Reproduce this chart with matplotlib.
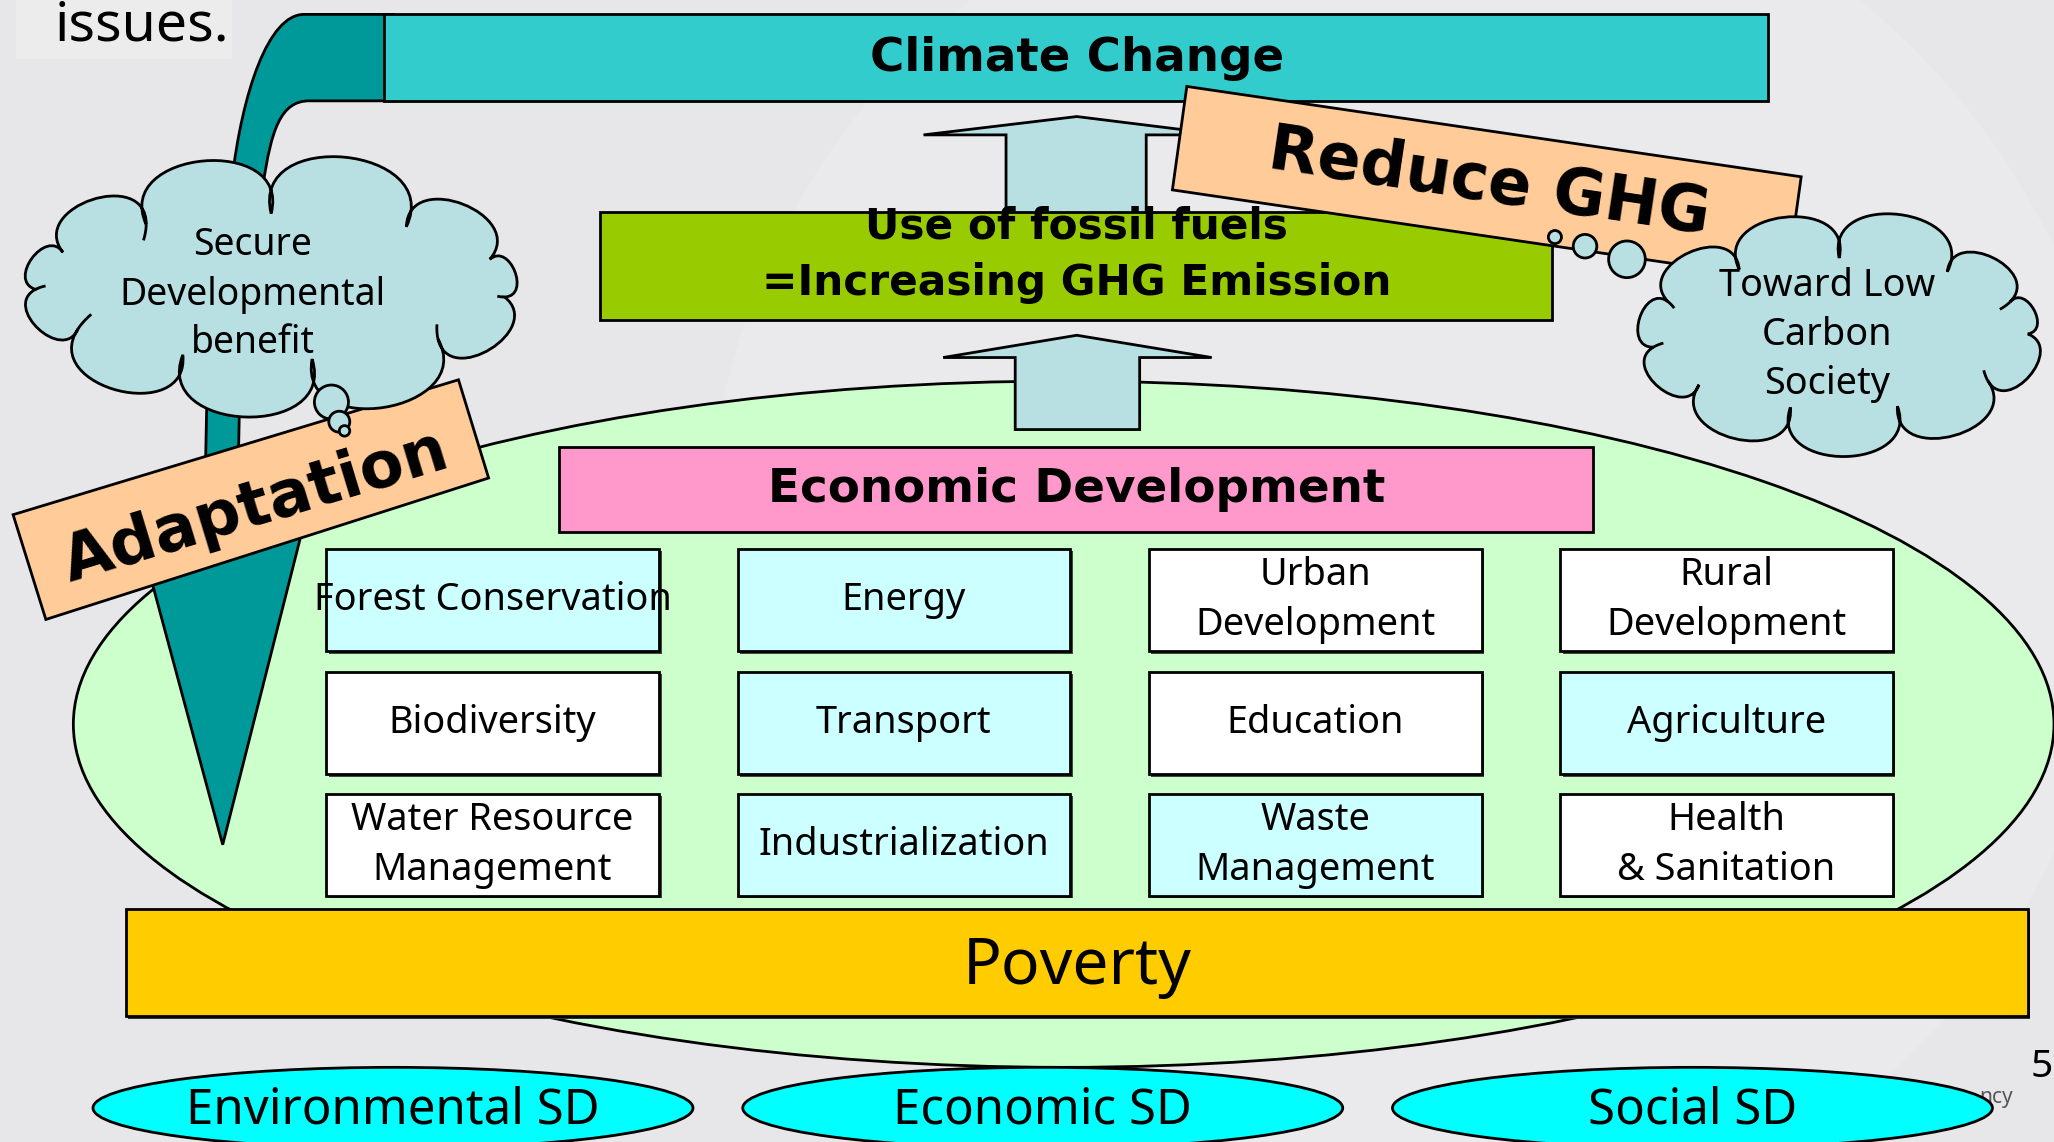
import os
import numpy as np
import matplotlib.pyplot as plt
from matplotlib.patches import Rectangle, Ellipse, Polygon, PathPatch, Circle
from matplotlib.path import Path
from matplotlib import font_manager


# ---- texts of the diagram
top_label = 'Climate Change'
fossil_lines = ['Use of fossil fuels', '=Increasing GHG Emission']
econ_label = 'Economic Development'
sector_labels = [
    ['Forest Conservation', 'Energy', 'Urban\nDevelopment', 'Rural\nDevelopment'],
    ['Biodiversity', 'Transport', 'Education', 'Agriculture'],
    ['Water Resource\nManagement', 'Industrialization', 'Waste\nManagement', 'Health\n& Sanitation'],
]
sector_cyan = [
    [1, 1, 0, 0],
    [0, 1, 0, 1],
    [0, 1, 1, 0],
]
base_label = 'Poverty'
sd_labels = ['Environmental SD', 'Economic SD', 'Social SD']
left_cloud_lines = ['Secure', 'Developmental', 'benefit']
right_cloud_lines = ['Toward Low', 'Carbon', 'Society']
reduce_label = 'Reduce GHG'
adapt_label = 'Adaptation'


# regular text: a face a bit narrower than DejaVu (the slide used squeezed Tahoma)
FAMILY = 'DejaVu Sans'
for cand in ['Noto Sans', 'Open Sans']:
    try:
        font_manager.findfont(font_manager.FontProperties(family=cand), fallback_to_default=False)
        FAMILY = cand
        break
    except Exception:
        pass

SX = 2054 / 1568.0


def fprop(size, bold=False):
    if bold:
        return font_manager.FontProperties(family='DejaVu Sans', size=size, weight='bold')
    return font_manager.FontProperties(family=[FAMILY, 'DejaVu Sans'], size=size)


def fit(s, width, bold=False):
    # font size (pt) whose rendered width is `width` reference pixels
    t = ax.text(0, 0, s, fontproperties=fprop(20, bold))
    w = t.get_window_extent(renderer=fig.canvas.get_renderer()).width
    t.remove()
    return 20 * width * SX / w


def txt(x, y, s, size, bold=False, rot=0, ha='center', color='black', z=20):
    ax.text(x, y, s, fontproperties=fprop(size, bold), ha=ha, va='center',
            rotation=rot, rotation_mode='anchor', color=color, zorder=z)


def cloud(cx, cy, rx, ry, angles, curls, z=9):
    pts = [np.array([cx + rx*np.cos(np.radians(a)), cy + ry*np.sin(np.radians(a))]) for a in angles]
    verts = [tuple(pts[0])]
    codes = [Path.MOVETO]
    segs = []
    n = len(pts)
    for i in range(n):
        p0, p1 = pts[i], pts[(i+1) % n]
        d = p1 - p0
        L = np.hypot(*d)
        nrm = np.array([d[1], -d[0]]) / L
        if np.dot(nrm, (p0+p1)/2 - np.array([cx, cy])) < 0:
            nrm = -nrm
        c1 = p0 + nrm*0.62*L - d*0.22
        c2 = p1 + nrm*0.62*L + d*0.22
        verts += [tuple(c1), tuple(c2), tuple(p1)]
        codes += [Path.CURVE4]*3
        segs.append((p0, c1, c2, p1))
    verts.append(tuple(pts[0]))
    codes.append(Path.CLOSEPOLY)
    ax.add_patch(PathPatch(Path(verts, codes), fc='#b8e0e3', ec='black', lw=2, zorder=z))
    # short inward curls at some joints
    for i in curls:
        p0, c1, c2, p1 = segs[i]
        t = np.linspace(1.0, 1.08, 10)
        b = ((1-t)**3)[:, None]*p0 + (3*(1-t)**2*t)[:, None]*c1 + (3*(1-t)*t**2)[:, None]*c2 + (t**3)[:, None]*p1
        ax.plot(b[:, 0], b[:, 1], color='black', lw=2, zorder=z+0.1, solid_capstyle='butt')


fig = plt.figure(figsize=(20.54, 11.42), dpi=100)
ax = fig.add_axes([0, 0, 1, 1])
ax.set_xlim(0, 1568)
ax.set_ylim(872, 0)
ax.axis('off')
fig.patch.set_facecolor('#e7e7e9')

# font sizes fitted to the widths seen on the slide
fs_issues = fit('issues.', 133)
fs_top = fit(top_label, 317, True)
fs_fossil = fit(fossil_lines[1], 481, True)
fs_econ = fit(econ_label, 472, True)
fs_box = fit('Forest Conservation', 273)
fs_pov = fit(base_label, 175)
fs_sd = fit(sd_labels[0], 316)
fs_reduce = fit(reduce_label, 340, True)
fs_adapt = fit(adapt_label, 305, True)
fs_lc = fit('Developmental', 204)
fs_rc = fit('Toward Low', 165)

# faint globe in the background
ax.add_patch(Circle((1080, 420), 540, fc='white', ec='none', alpha=0.14, zorder=0))

# "issues." fragment at the top left
ax.add_patch(Rectangle((12, 0), 165, 45, fc='#ececed', ec='none', zorder=0.5))
txt(42, 20, 'issues.', fs_issues, ha='left')

# big green ellipse
ax.add_patch(Ellipse((812, 553), 1512, 524, fc='#ccffcc', ec='black', lw=2, zorder=1))

# teal bent arrow
tv = [(300, 11), (232, 11), (205, 11), (185, 70), (177, 138), (158, 300), (156, 400),
      (104, 400), (170, 645), (232, 400), (181, 400), (183, 300), (201, 140),
      (207, 100), (214, 77), (236, 77), (300, 77), (300, 11)]
tc = [Path.MOVETO, Path.LINETO, Path.CURVE4, Path.CURVE4, Path.CURVE4, Path.LINETO, Path.LINETO,
      Path.LINETO, Path.LINETO, Path.LINETO, Path.LINETO, Path.LINETO, Path.LINETO,
      Path.CURVE4, Path.CURVE4, Path.CURVE4, Path.LINETO, Path.CLOSEPOLY]
ax.add_patch(PathPatch(Path(tv, tc), fc='#009999', ec='black', lw=2, zorder=2))

# Climate Change bar
ax.add_patch(Rectangle((293, 11), 1057, 66, fc='#33cccc', ec='black', lw=2, zorder=3))
txt(822, 45, top_label, fs_top, bold=True)

# upward block arrows
ax.add_patch(Polygon([(768, 170), (768, 103), (705, 103), (822, 89), (935, 103), (875, 103), (875, 170)],
                     closed=True, fc='#b8e0e3', ec='black', lw=2, zorder=3))
ax.add_patch(Polygon([(775, 328), (775, 273), (720, 273), (822, 256), (925, 273), (870, 273), (870, 328)],
                     closed=True, fc='#b8e0e3', ec='black', lw=2, zorder=3))

# fossil fuel box
ax.add_patch(Rectangle((458, 162), 727, 82, fc='#99cc00', ec='black', lw=2, zorder=4))
txt(822, 173, fossil_lines[0], fs_fossil, bold=True)
txt(822, 216, fossil_lines[1], fs_fossil, bold=True)

# Economic development box
ax.add_patch(Rectangle((427, 341), 789, 65, fc='#ff99cc', ec='black', lw=2, zorder=4))
txt(822, 374, econ_label, fs_econ, bold=True)

# sector grid
col_x = [249, 563, 877, 1191]
row_y = [419, 513, 606]
bw, bh = 254, 78
for r, row in enumerate(sector_labels):
    for c, lab in enumerate(row):
        x0, y0 = col_x[c], row_y[r]
        ax.add_patch(Rectangle((x0 + 2, y0 + 2), bw, bh, fc='#444444', ec='none', zorder=4.9))
        fc = '#ccffff' if sector_cyan[r][c] else 'white'
        ax.add_patch(Rectangle((x0, y0), bw, bh, fc=fc, ec='black', lw=2, zorder=5))
        lines = lab.split('\n')
        cx, cy = x0 + bw/2, y0 + bh/2
        if len(lines) == 1:
            txt(cx, cy, lines[0], fs_box)
        else:
            txt(cx, cy - 19, lines[0], fs_box)
            txt(cx, cy + 19, lines[1], fs_box)

# Poverty bar
ax.add_patch(Rectangle((98, 696), 1452, 82, fc='#333333', ec='none', zorder=5.9))
ax.add_patch(Rectangle((96, 694), 1452, 82, fc='#ffcc00', ec='black', lw=2, zorder=6))
txt(822, 738, base_label, fs_pov)

# page-footer remnants
txt(1524, 838, 'ncy', 15, color='#555555', z=6.5)
txt(1550, 815, '5', 28, ha='left', z=6.5)

# sustainable development ellipses
for cx, lab in zip([300, 796, 1292], sd_labels):
    ax.add_patch(Ellipse((cx, 846), 458, 62, fc='#00ffff', ec='black', lw=2, zorder=7))
    txt(cx, 848, lab, fs_sd)

# tilted signs
ax.add_patch(Polygon([(906, 66), (1375, 135), (1364, 214), (895, 145)], closed=True,
                     fc='#ffcc99', ec='black', lw=2, zorder=8))
txt(1137, 140, reduce_label, fs_reduce, bold=True, rot=-8.5)
ax.add_patch(Polygon([(10, 393), (350, 290), (373, 365), (35, 473)], closed=True,
                     fc='#ffcc99', ec='black', lw=2, zorder=8))
txt(195, 387, adapt_label, fs_adapt, bold=True, rot=16.9)

# thought clouds
cloud(207, 219, 180, 56, [8, 45, 80, 112, 145, 178, 208, 238, 270, 305, 338], [0, 3, 4, 6, 10], z=9)
for (x, y, r) in [(253, 307, 13), (259, 322, 8), (263, 329, 4)]:
    ax.add_patch(Circle((x, y), r, fc='#b8e0e3', ec='black', lw=2, zorder=9))
txt(193, 187, left_cloud_lines[0], fs_lc, z=21)
txt(193, 225, left_cloud_lines[1], fs_lc, z=21)
txt(193, 262, left_cloud_lines[2], fs_lc, z=21)

cloud(1404, 255, 144, 58, [0, 38, 72, 105, 138, 170, 205, 238, 270, 305, 335], [0, 4, 5, 9], z=9)
for (x, y, r) in [(1187, 181, 5), (1210, 188, 9), (1242, 198, 14)]:
    ax.add_patch(Circle((x, y), r, fc='#b8e0e3', ec='black', lw=2, zorder=9))
txt(1395, 218, right_cloud_lines[0], fs_rc, z=21)
txt(1395, 256, right_cloud_lines[1], fs_rc, z=21)
txt(1395, 293, right_cloud_lines[2], fs_rc, z=21)

fig.savefig('out.png', dpi=100, facecolor=fig.get_facecolor())
